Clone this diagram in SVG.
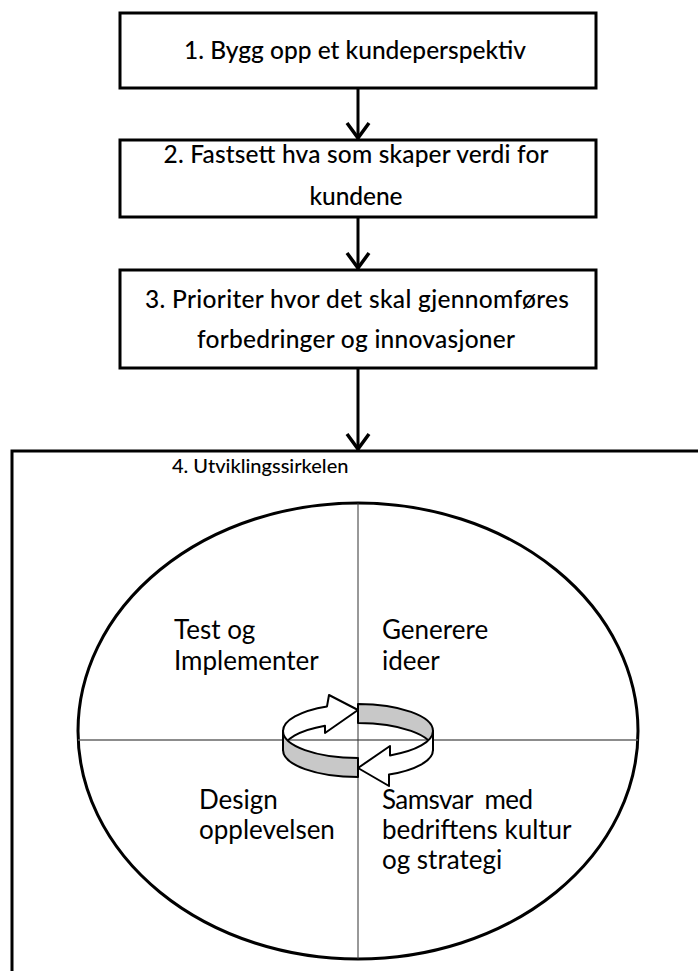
<svg xmlns="http://www.w3.org/2000/svg" width="698" height="971" viewBox="0 0 698 971">
<style>
.box{fill:#fff;stroke:#000;stroke-width:3}
.t{font-family:Lato,"Open Sans","Liberation Sans",sans-serif;font-size:24.5px;font-weight:500;fill:#000}
.tb{font-family:Lato,"Open Sans","Liberation Sans",sans-serif;font-size:26px;fill:#000}
.conn{stroke:#000;stroke-width:3;fill:none}
.ring{stroke:#000;stroke-width:2;stroke-linejoin:round}
</style>
<defs>
<marker id="ah" markerUnits="userSpaceOnUse" markerWidth="30" markerHeight="30" refX="18" refY="15" orient="auto" viewBox="0 0 30 30">
<polyline points="2,4 17,15 2,26" fill="none" stroke="#000" stroke-width="3.5"/>
</marker>
</defs>
<rect width="698" height="971" fill="#fff"/>

<g id="connectors">
<line class="conn" x1="358" y1="88" x2="358" y2="139" marker-end="url(#ah)"/>
<line class="conn" x1="358" y1="217" x2="358" y2="269" marker-end="url(#ah)"/>
<line class="conn" x1="358" y1="368" x2="358" y2="450" marker-end="url(#ah)"/>
</g>

<g id="node1">
<rect class="box" x="120" y="13" width="476" height="75"/>
<text class="t" x="355" y="59" text-anchor="middle" textLength="342">1. Bygg opp et kundeperspektiv</text>
</g>

<g id="node2">
<rect class="box" x="120" y="140" width="476" height="77"/>
<text class="t" x="356" y="163" text-anchor="middle" textLength="385">2. Fastsett hva som skaper verdi for</text>
<text class="t" x="356" y="205" text-anchor="middle" textLength="93">kundene</text>
</g>

<g id="node3">
<rect class="box" x="120" y="270" width="476" height="98"/>
<text class="t" x="357" y="308" text-anchor="middle" textLength="424">3. Prioriter hvor det skal gjennomføres</text>
<text class="t" x="356" y="348" text-anchor="middle" textLength="318">forbedringer og innovasjoner</text>
</g>

<g id="node4">
<rect class="box" x="12" y="451" width="720" height="560"/>
<text class="t" x="172" y="473" style="font-size:20px">4. Utviklingssirkelen</text>
<ellipse cx="358" cy="731" rx="280" ry="228" fill="none" stroke="#000" stroke-width="3"/>
<line x1="78" y1="740" x2="638" y2="740" stroke="#666" stroke-width="1.5"/>
<line x1="358" y1="503" x2="358" y2="959" stroke="#333" stroke-width="1"/>

<g id="cycle">
<path class="ring" fill="#c8c8c8" d="M358,704 A75,27 0 0 1 433,731 L433,750 A75,27 0 0 0 358,723 Z"/>
<path class="ring" fill="#fff" d="M283,731 A75,27 0 0 1 327,706.4 L329,695 L358,710 L325,733 L325,725.8 A75,27 0 0 0 283,750 Z"/>
<path class="ring" fill="#c8c8c8" d="M283,731 A75,27 0 0 0 358,758 L358,777 A75,27 0 0 1 283,750 Z"/>
<path class="ring" fill="#fff" d="M433,731 A75,27 0 0 1 390,755.4 L390,746 L358,768 L389,786 L389,774.6 A75,27 0 0 0 433,750 Z"/>
</g>

<text class="tb" x="174" y="639">Test og</text>
<text class="tb" x="174" y="670">Implementer</text>
<text class="tb" x="382" y="639">Generere</text>
<text class="tb" x="382" y="670">ideer</text>
<text class="tb" x="199" y="809">Design</text>
<text class="tb" x="199" y="839">opplevelsen</text>
<text class="tb" x="382" y="809" xml:space="preserve" textLength="151">Samsvar  med</text>
<text class="tb" x="382" y="839">bedriftens kultur</text>
<text class="tb" x="382" y="869">og strategi</text>
</g>
</svg>
